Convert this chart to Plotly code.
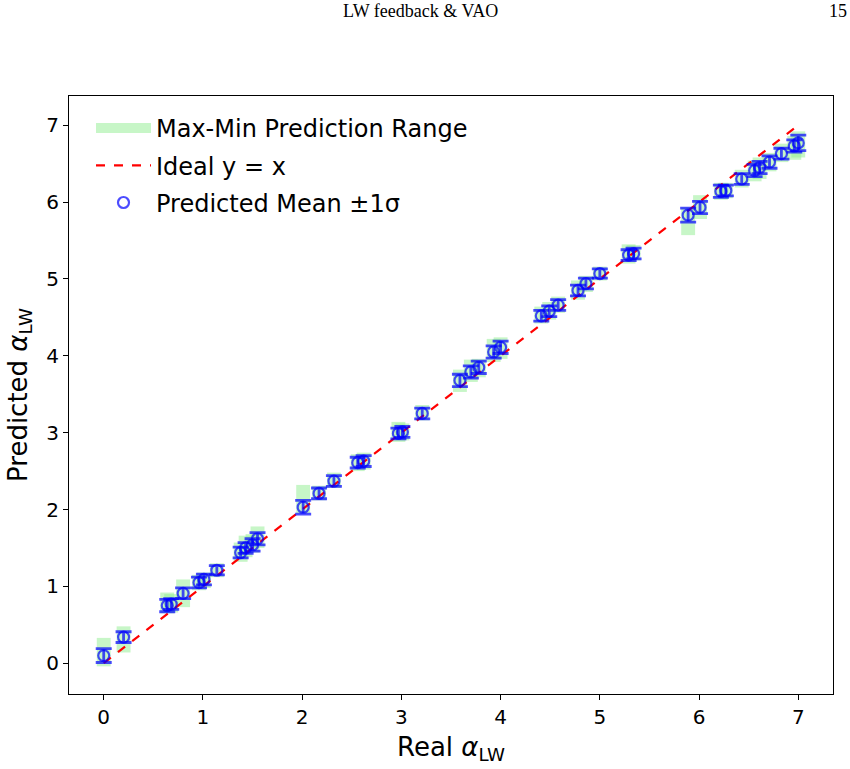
import plotly.graph_objects as go

# Data
real_alpha = [0.00, 0.20, 0.64, 0.68, 0.80, 0.96, 1.01, 1.14, 1.38, 1.43, 1.50, 1.55,
              2.01, 2.17, 2.32, 2.56, 2.62, 2.97, 3.01, 3.21, 3.59, 3.70, 3.78, 3.93,
              4.00, 4.41, 4.49, 4.58, 4.78, 4.86, 5.00, 5.29, 5.34, 5.89, 6.01, 6.22,
              6.27, 6.43, 6.56, 6.61, 6.71, 6.83, 6.96, 7.00]
pred_mean = [0.10, 0.34, 0.75, 0.77, 0.91, 1.05, 1.09, 1.21, 1.44, 1.50, 1.54, 1.62,
             2.03, 2.21, 2.37, 2.61, 2.63, 2.99, 3.01, 3.25, 3.68, 3.79, 3.85, 4.05,
             4.11, 4.52, 4.58, 4.66, 4.85, 4.94, 5.07, 5.31, 5.33, 5.83, 5.93, 6.14,
             6.15, 6.30, 6.41, 6.45, 6.52, 6.63, 6.73, 6.77]
pred_std = [0.09, 0.07, 0.08, 0.07, 0.07, 0.07, 0.07, 0.06, 0.07, 0.07, 0.08, 0.08,
            0.09, 0.07, 0.07, 0.07, 0.07, 0.07, 0.07, 0.07, 0.08, 0.08, 0.08, 0.08,
            0.08, 0.07, 0.07, 0.07, 0.07, 0.07, 0.06, 0.07, 0.07, 0.09, 0.08, 0.08,
            0.07, 0.07, 0.08, 0.08, 0.08, 0.07, 0.08, 0.10]
pred_min = [-0.04, 0.14, 0.65, 0.66, 0.73, 0.95, 0.98, 1.12, 1.32, 1.38, 1.44, 1.50,
            1.95, 2.12, 2.28, 2.50, 2.52, 2.88, 2.90, 3.16, 3.53, 3.66, 3.72, 3.92,
            3.96, 4.42, 4.47, 4.56, 4.73, 4.83, 4.98, 5.20, 5.24, 5.57, 5.78, 6.03,
            6.05, 6.19, 6.27, 6.30, 6.40, 6.52, 6.55, 6.58]
pred_max = [0.33, 0.48, 0.92, 0.90, 1.09, 1.15, 1.18, 1.30, 1.57, 1.66, 1.68, 1.78,
            2.32, 2.31, 2.48, 2.72, 2.74, 3.14, 3.12, 3.36, 3.82, 3.95, 3.96, 4.22,
            4.24, 4.64, 4.70, 4.77, 4.98, 5.04, 5.16, 5.45, 5.44, 5.93, 6.09, 6.25,
            6.25, 6.42, 6.54, 6.58, 6.64, 6.76, 6.86, 6.92]
ideal_x = [0, 7]
ideal_y = [0, 7]
tick_vals = [0, 1, 2, 3, 4, 5, 6, 7]

range_height = [mx - mn for mx, mn in zip(pred_max, pred_min)]

GREEN = "rgba(144,238,144,0.5)"
BLUE = "rgba(0,0,255,0.7)"

fig = go.Figure()

fig.add_trace(go.Bar(
    x=real_alpha, y=range_height, base=pred_min, width=0.14,
    marker=dict(color=GREEN, line=dict(width=0)),
    name="Max-Min Prediction Range", showlegend=False, legendgroup="g1",
))
# legend proxy for the range patches (wide patch like matplotlib)
fig.add_trace(go.Scatter(
    x=[None], y=[None], mode="lines",
    line=dict(color=GREEN, width=16),
    name="Max-Min Prediction Range", showlegend=True, legendgroup="g1",
))

fig.add_trace(go.Scatter(
    x=ideal_x, y=ideal_y, mode="lines",
    line=dict(color="red", width=2.2, dash="dash"),
    name="Ideal y = x", legendgroup="g2",
))

fig.add_trace(go.Scatter(
    x=real_alpha, y=pred_mean, mode="markers",
    marker=dict(symbol="circle-open", size=11, color=BLUE,
                line=dict(width=2.2, color=BLUE)),
    error_y=dict(type="data", array=pred_std, visible=True,
                 color=BLUE, thickness=2.8, width=8),
    name="Predicted Mean ±1σ", legendgroup="g3",
))

axis_common = dict(
    showline=True, linecolor="black", linewidth=1.2, mirror=True,
    ticks="outside", ticklen=5, tickwidth=1.2, tickcolor="black",
    showgrid=False, zeroline=False,
    tickfont=dict(family="DejaVu Sans", size=20, color="black"),
    tickvals=tick_vals,
)

plot_w = 850 - 69 - 17
plot_h = 769 - 96 - 75

fig.update_layout(
    width=850, height=769,
    paper_bgcolor="white", plot_bgcolor="white",
    margin=dict(l=69, r=17, t=96, b=75),
    barmode="overlay",
    font=dict(family="DejaVu Sans", color="black"),
    xaxis=dict(range=[-0.35, 7.35],
               title=dict(text="Real <i>α</i><sub>LW</sub>",
                          font=dict(size=26, family="DejaVu Sans"), standoff=9),
               **axis_common),
    yaxis=dict(range=[-0.40, 7.38],
               title=dict(text="Predicted <i>α</i><sub>LW</sub>",
                          font=dict(size=26, family="DejaVu Sans"), standoff=11),
               **axis_common),
    legend=dict(x=(91 - 69) / plot_w, y=1 - 10 / plot_h, xanchor="left", yanchor="top",
                bgcolor="rgba(255,255,255,0)", borderwidth=0,
                font=dict(size=24, family="DejaVu Sans"),
                traceorder="grouped", tracegroupgap=3, itemwidth=55),
    showlegend=True,
    annotations=[
        dict(text="LW feedback &amp; VAO", x=(420 - 69) / plot_w, y=1 + (96 - 11) / plot_h,
             xref="paper", yref="paper",
             xanchor="center", yanchor="middle", showarrow=False,
             font=dict(family="Liberation Serif", size=18, color="black")),
        dict(text="15", x=(849 - 69) / plot_w, y=1 + (96 - 11) / plot_h,
             xref="paper", yref="paper",
             xanchor="right", yanchor="middle", showarrow=False,
             font=dict(family="Liberation Serif", size=18, color="black")),
    ],
)

fig.write_html("out.html")
